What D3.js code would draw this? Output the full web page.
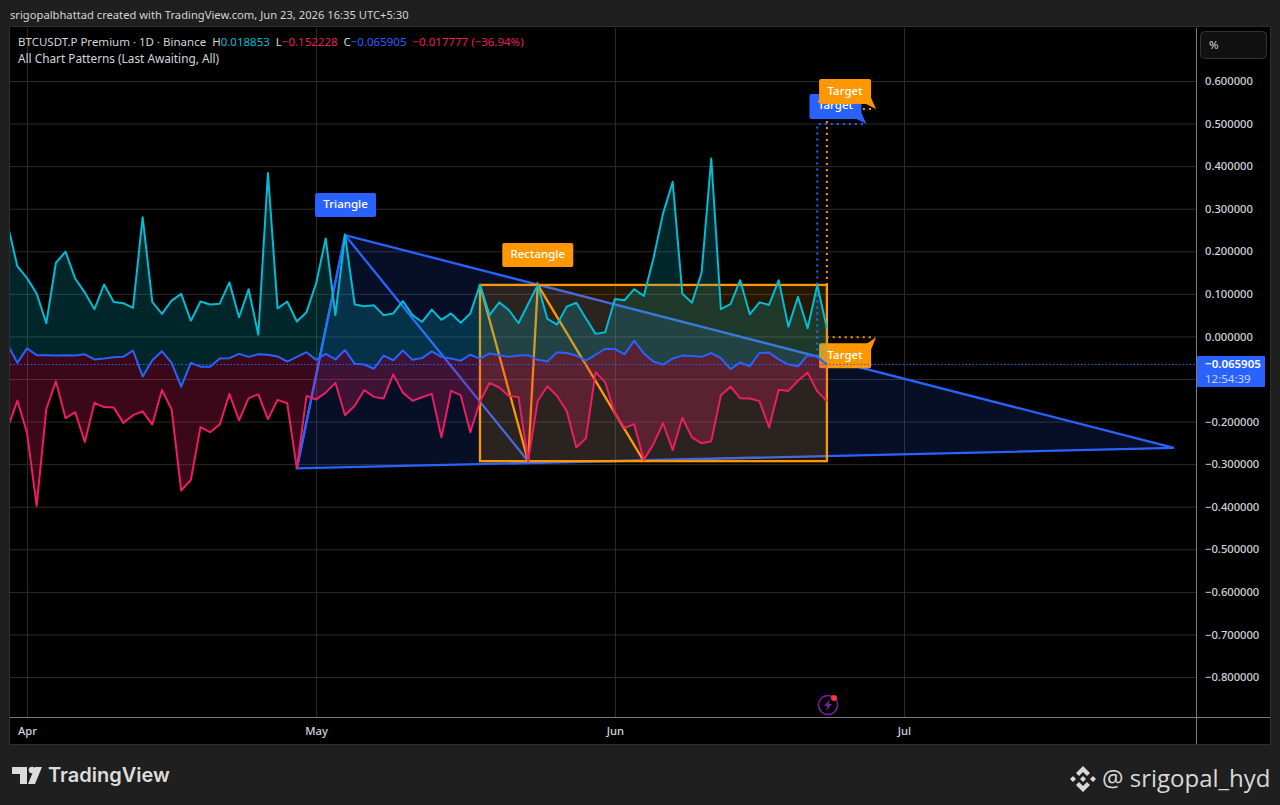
<!DOCTYPE html>
<html>
<head>
<meta charset="utf-8">
<script src="https://cdn.jsdelivr.net/npm/d3@7"></script>
<style>
  html, body { margin: 0; padding: 0; background: #1f1f1f; }
  svg { display: block; }
  text { font-family: "Noto Sans", sans-serif; }
</style>
</head>
<body>
<div id="chart"></div>
<script>
// daily values, Mar 30 to Jun 23
const firstDay = new Date(Date.UTC(2026, 2, 30));
const highValues = [
  0.262, 0.165, 0.137, 0.101, 0.031, 0.173, 0.199, 0.136, 0.103, 0.064, 0.122, 0.081, 0.078, 0.067, 0.280, 0.081,
  0.053, 0.084, 0.100, 0.037, 0.082, 0.075, 0.077, 0.127, 0.045, 0.111, 0.004, 0.384, 0.066, 0.082, 0.035, 0.057,
  0.125, 0.230, 0.050, 0.238, 0.075, 0.071, 0.073, 0.050, 0.054, 0.083, 0.050, 0.034, 0.063, 0.039, 0.054, 0.032,
  0.054, 0.121, 0.050, 0.080, 0.062, 0.031, 0.076, 0.121, 0.041, 0.028, 0.070, 0.079, 0.042, 0.006, 0.010,
  0.088, 0.085, 0.111, 0.095, 0.183, 0.289, 0.363, 0.100, 0.079, 0.150, 0.418, 0.064, 0.076, 0.132, 0.052, 0.080,
  0.074, 0.132, 0.023, 0.093, 0.019, 0.120, 0.019
];
const lowValues = [
  -0.215, -0.151, -0.226, -0.398, -0.171, -0.105, -0.192, -0.178, -0.248, -0.156, -0.166, -0.167, -0.203, -0.185, -0.176, -0.207,
  -0.126, -0.171, -0.362, -0.337, -0.213, -0.225, -0.207, -0.135, -0.197, -0.145, -0.136, -0.194, -0.149, -0.157, -0.310, -0.140,
  -0.148, -0.132, -0.109, -0.185, -0.163, -0.126, -0.142, -0.146, -0.089, -0.132, -0.151, -0.143, -0.135, -0.237, -0.128, -0.138,
  -0.225, -0.153, -0.109, -0.120, -0.140, -0.142, -0.293, -0.151, -0.117, -0.140, -0.175, -0.261, -0.239, -0.084, -0.108,
  -0.181, -0.215, -0.206, -0.290, -0.253, -0.204, -0.267, -0.191, -0.237, -0.251, -0.246, -0.138, -0.118, -0.145, -0.146, -0.152,
  -0.214, -0.125, -0.128, -0.104, -0.085, -0.129, -0.152
];
const closeValues = [
  -0.020, -0.062, -0.028, -0.044, -0.044, -0.045, -0.044, -0.045, -0.042, -0.054, -0.052, -0.049, -0.048, -0.033, -0.094, -0.056,
  -0.035, -0.062, -0.118, -0.062, -0.071, -0.071, -0.052, -0.051, -0.041, -0.048, -0.042, -0.043, -0.047, -0.059, -0.048, -0.037,
  -0.055, -0.041, -0.054, -0.032, -0.064, -0.066, -0.076, -0.045, -0.056, -0.033, -0.055, -0.051, -0.035, -0.048, -0.052, -0.057,
  -0.043, -0.052, -0.040, -0.044, -0.048, -0.045, -0.044, -0.055, -0.059, -0.037, -0.039, -0.045, -0.057, -0.043, -0.029,
  -0.030, -0.042, -0.010, -0.040, -0.059, -0.066, -0.052, -0.045, -0.046, -0.048, -0.039, -0.051, -0.077, -0.061, -0.070, -0.039,
  -0.038, -0.054, -0.066, -0.070, -0.044, -0.048, -0.065905
];
const lastClose = -0.065905;

const priceTicks = [0.6, 0.5, 0.4, 0.3, 0.2, 0.1, 0, -0.1, -0.2, -0.3, -0.4, -0.5, -0.6, -0.7, -0.8];
const monthTicks = [[2026, 3, 1], [2026, 4, 1], [2026, 5, 1], [2026, 6, 1]].map(d => new Date(Date.UTC(...d)));

// chart pattern pivots
const day = (m, d) => new Date(Date.UTC(2026, m, d));
const triangleDates = [day(3, 29), day(4, 4), day(4, 23)];
const triangleValues = [-0.31, 0.238, -0.293];
const triangleApexDate = day(6, 29);
const triangleApexValue = -0.262;
const triangleTarget = 0.499;
const rectDates = [day(4, 18), day(5, 23)];
const rectValues = [0.121, -0.293];
const rectZigDates = [day(4, 18), day(4, 23), day(4, 24), day(5, 4)];
const rectZigValues = [0.121, -0.293, 0.121, -0.293];
const rectTargets = [0.534, -0.002];

const blue = "#2962ff", orange = "#ff9800", teal = "#00bcd4", pink = "#e91e63";
const axisText = "#d1d4dc";

const W = 1280, H = 805;
const pane = {left: 10, right: 1196, top: 28, bottom: 717, outerRight: 1270, outerBottom: 744};

const svg = d3.select("#chart").append("svg").attr("width", W).attr("height", H);

const x = d3.scaleUtc().domain([monthTicks[0], monthTicks[3]]).range([27, 904]);
const y = d3.scaleLinear().domain([0.6, -0.8]).range([81, 677]);

const dates = highValues.map((_, i) => d3.utcDay.offset(firstDay, i));

svg.append("rect").attr("width", W).attr("height", H).attr("fill", "#1f1f1f");
svg.append("rect").attr("x", pane.left - 0.5).attr("y", pane.top - 1.5)
  .attr("width", pane.outerRight - pane.left + 1).attr("height", pane.outerBottom - pane.top + 2)
  .attr("fill", "#000").attr("stroke", "#2e2e2e");

svg.append("clipPath").attr("id", "pane").append("rect")
  .attr("x", pane.left).attr("y", pane.top)
  .attr("width", pane.right - pane.left).attr("height", pane.bottom - pane.top);

// grid + axes
const gridX = svg.append("g").attr("transform", `translate(0,${pane.bottom})`)
  .call(d3.axisBottom(x).tickValues(monthTicks).tickSize(pane.top - pane.bottom).tickFormat(""));
const gridY = svg.append("g").attr("transform", `translate(${pane.right},0)`)
  .call(d3.axisRight(y).tickValues(priceTicks).tickSize(pane.left - pane.right).tickFormat(""));
[gridX, gridY].forEach(g => {
  g.select(".domain").remove();
  g.selectAll("line").attr("stroke", "#2c2c2c");
});

// the -0.1 label sits behind the last price tag
const yAxis = svg.append("g").attr("transform", `translate(${pane.right},0)`)
  .call(d3.axisRight(y).tickValues(priceTicks.filter(d => d !== -0.1)).tickSize(0).tickPadding(9)
    .tickFormat(d => d3.format(".6f")(d).replace("-", "\u2212")));
const xAxis = svg.append("g").attr("transform", `translate(0,${pane.bottom})`)
  .call(d3.axisBottom(x).tickValues(monthTicks).tickSize(0).tickPadding(10).tickFormat(d3.utcFormat("%b")));
[xAxis, yAxis].forEach(g => {
  g.select(".domain").remove();
  g.selectAll("text").attr("fill", axisText).style("font-size", "11.2px").style("font-weight", 500);
});

const plot = svg.append("g").attr("clip-path", "url(#pane)");
const line = d3.line().x(d => x(d[0])).y(d => y(d[1]));

// triangle
const triPts = d3.zip(triangleDates, triangleValues);
const apex = [triangleApexDate, triangleApexValue];
plot.append("path").attr("d", line([triPts[0], triPts[1], apex]) + "Z")
  .attr("fill", blue).attr("fill-opacity", 0.15).attr("stroke", blue).attr("stroke-width", 2.3);
plot.append("path").attr("d", line(triPts)).attr("fill", "none").attr("stroke", blue).attr("stroke-width", 2.3);

// rectangle
plot.append("rect")
  .attr("x", x(rectDates[0])).attr("y", y(rectValues[0]))
  .attr("width", x(rectDates[1]) - x(rectDates[0])).attr("height", y(rectValues[1]) - y(rectValues[0]))
  .attr("fill", orange).attr("fill-opacity", 0.15).attr("stroke", orange).attr("stroke-width", 2.3);
plot.append("path").attr("d", line(d3.zip(rectZigDates, rectZigValues)))
  .attr("fill", "none").attr("stroke", orange).attr("stroke-width", 2.3);

// dotted target guides
const dotted = (pts, color) => plot.append("path").attr("d", line(pts)).attr("fill", "none")
  .attr("stroke", color).attr("stroke-width", 2).attr("stroke-dasharray", "2 4");
const jun22 = day(5, 22), jun23 = day(5, 23);
dotted([[jun23, rectTargets[0]], [jun23, rectTargets[1]], [day(5, 28), rectTargets[1]]], orange);
dotted([[jun23, rectTargets[0]], [day(5, 28), rectTargets[0]]], orange);
dotted([[jun22, -0.047], [jun22, triangleTarget], [day(5, 27), triangleTarget]], blue);

// bubbles
function bubble(cx, top, w, h, color, label) {
  const g = plot.append("g");
  g.append("rect").attr("x", cx - w / 2).attr("y", top).attr("width", w).attr("height", h).attr("rx", 2).attr("fill", color);
  g.append("text").attr("x", cx).attr("y", top + h / 2 + 3).attr("text-anchor", "middle")
    .attr("fill", "#fff").style("font-size", "11.5px").style("font-weight", 500).text(label);
  return g;
}
function target(tipDate, value, color, below) {
  const tx = x(tipDate) + 1, ty = y(value);
  const right = tx - 5, top = below ? ty + 6 : ty - 30;
  plot.append("path").attr("fill", color).attr("d", below
    ? `M${tx},${ty}L${right - 5},${ty + 7}L${right},${ty + 12}Z`
    : `M${tx},${ty}L${right - 5},${ty - 5}L${right},${ty - 11}Z`);
  bubble(right - 26, top, 52, 25, color, "Target");
}
bubble(x(triangleDates[1]) + 0.5, y(triangleValues[1]) - 42, 61, 24, blue, "Triangle");
bubble(x(rectZigDates[2]), y(rectValues[0]) - 42, 71, 24, orange, "Rectangle");
target(day(5, 27), triangleTarget, blue, false);
target(day(5, 28), rectTargets[0], orange, false);
target(day(5, 28), rectTargets[1], orange, true);

// series
const areaHigh = d3.area().x((d, i) => x(dates[i])).y0((d, i) => y(closeValues[i])).y1(d => y(d));
plot.append("path").attr("d", areaHigh(highValues)).attr("fill", teal).attr("fill-opacity", 0.2);
plot.append("path").attr("d", areaHigh(lowValues)).attr("fill", pink).attr("fill-opacity", 0.25);
[[lowValues, pink], [closeValues, blue], [highValues, teal]].forEach(([vals, color]) => {
  plot.append("path").attr("d", d3.line().x((d, i) => x(dates[i])).y(d => y(d))(vals))
    .attr("fill", "none").attr("stroke", color).attr("stroke-width", 2).attr("stroke-linejoin", "round");
});

// last price line
plot.append("line").attr("x1", pane.left).attr("x2", pane.right).attr("y1", y(lastClose)).attr("y2", y(lastClose))
  .attr("stroke", blue).attr("stroke-width", 1).attr("stroke-dasharray", "1.5 2");

// pane borders
svg.append("line").attr("x1", pane.left).attr("x2", pane.outerRight).attr("y1", pane.bottom + 0.5).attr("y2", pane.bottom + 0.5).attr("stroke", "#7b7b7b");
svg.append("line").attr("x1", pane.right + 0.5).attr("x2", pane.right + 0.5).attr("y1", pane.top).attr("y2", pane.outerBottom).attr("stroke", "#7b7b7b");

// price label
svg.append("rect").attr("x", pane.right + 1).attr("y", 356).attr("width", 68).attr("height", 31).attr("rx", 1).attr("fill", blue);
svg.append("text").attr("x", 1205).attr("y", 368).attr("fill", "#fff").style("font-size", "11.5px").style("font-weight", 600)
  .text(d3.format(".6f")(lastClose).replace("-", "\u2212"));
svg.append("text").attr("x", 1205).attr("y", 383).attr("fill", "#c8d4ff").style("font-size", "11.5px").text("12:54:39");

// % button
svg.append("rect").attr("x", 1200.5).attr("y", 31.5).attr("width", 66).attr("height", 27).attr("rx", 4)
  .attr("fill", "#111").attr("stroke", "#333");
svg.append("text").attr("x", 1209).attr("y", 49).attr("fill", axisText).style("font-size", "11.5px").text("%");

// header + legend
svg.append("text").attr("x", 10).attr("y", 19).attr("fill", "#d1d4dc").style("font-size", "11.2px")
  .text("srigopalbhattad created with TradingView.com, Jun 23, 2026 16:35 UTC+5:30");
const legend = svg.append("text").attr("x", 18).attr("y", 46).attr("fill", axisText).style("font-size", "11.5px");
[["BTCUSDT.P Premium \u00b7 1D \u00b7 Binance  H", axisText], ["0.018853", teal], ["  L", axisText], ["\u22120.152228", pink],
 ["  C", axisText], ["\u22120.065905", blue], ["  \u22120.017777 (\u221236.94%)", pink]]
  .forEach(([t, c]) => legend.append("tspan").attr("fill", c).attr("xml:space", "preserve").style("white-space", "pre").text(t));
svg.append("text").attr("x", 18).attr("y", 63).attr("fill", axisText).style("font-size", "11.8px")
  .text("All Chart Patterns (Last Awaiting, All)");

// lightning icon
const bolt = svg.append("g").attr("transform", "translate(828,705)");
bolt.append("circle").attr("r", 9.5).attr("fill", "none").attr("stroke", "#7b1fa2").attr("stroke-width", 1.5);
bolt.append("path").attr("d", "M2,-6L-4,1L-0.5,1L-2,6L4,-1L0.5,-1Z").attr("fill", "#7b1fa2");
bolt.append("circle").attr("cx", 6).attr("cy", -7).attr("r", 3).attr("fill", "#f23645");

// TradingView logo
const logo = svg.append("g").attr("fill", "#dcdcdc");
logo.append("path").attr("d", "M12,767H27V784H20V774H12Z");
logo.append("circle").attr("cx", 32).attr("cy", 770).attr("r", 3.3);
logo.append("path").attr("d", "M35,767H42L35,784H28Z");
svg.append("text").attr("x", 48).attr("y", 782).attr("fill", "#dcdcdc")
  .style("font-family", "Inter, sans-serif").style("font-size", "20px").style("font-weight", 600).text("TradingView");

// watermark
const mark = svg.append("g").attr("transform", "translate(1083,779)").attr("fill", "#d8d8d8");
mark.append("path").attr("d", "M0,-13L7,-6L4,-3L0,-7L-4,-3L-7,-6Z");
mark.append("path").attr("d", "M0,13L7,6L4,3L0,7L-4,3L-7,6Z");
mark.append("path").attr("d", "M-10,-3L-13,0L-10,3L-7,0Z");
mark.append("path").attr("d", "M10,-3L13,0L10,3L7,0Z");
mark.append("path").attr("d", "M0,-3L-3,0L0,3L3,0Z");
svg.append("text").attr("x", 1102).attr("y", 787).attr("fill", "#d8d8d8")
  .style("font-family", "'Open Sans', sans-serif").style("font-size", "24px").text("@ srigopal_hyd");
</script>
</body>
</html>
